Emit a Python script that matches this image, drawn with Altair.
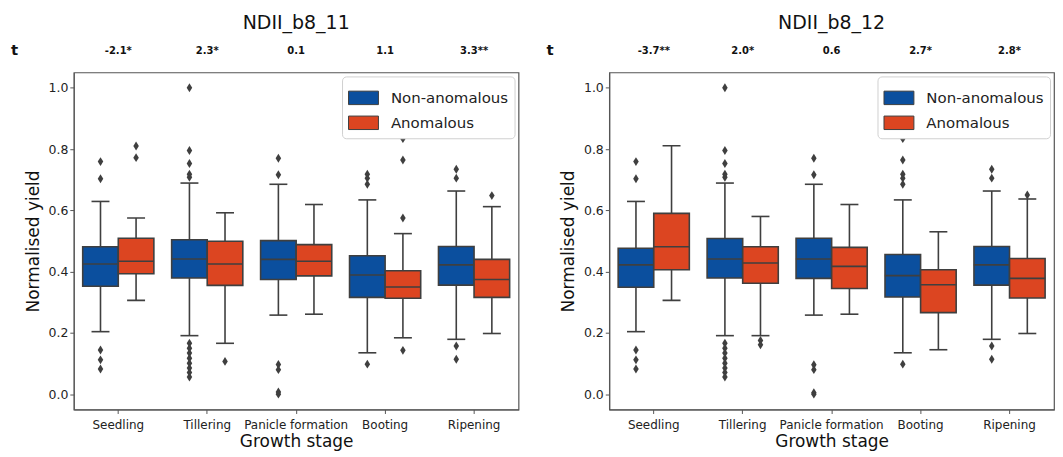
import altair as alt
import pandas as pd

stages = ["Seedling", "Tillering", "Panicle formation", "Booting", "Ripening"]
groups = ["Non-anomalous", "Anomalous"]
panels = ["NDII_b8_11", "NDII_b8_12"]

# t statistics shown above each growth stage
t_11 = ["-2.1*", "2.3*", "0.1", "1.1", "3.3**"]
t_12 = ["-3.7**", "2.0*", "0.6", "2.7*", "2.8*"]

# Box statistics per stage: [lower whisker, q1, median, q3, upper whisker]
# NDII_b8_11
non_11_wlo = [0.204, 0.191, 0.258, 0.135, 0.179]
non_11_q1 = [0.352, 0.379, 0.374, 0.316, 0.356]
non_11_med = [0.425, 0.441, 0.440, 0.389, 0.422]
non_11_q3 = [0.481, 0.504, 0.501, 0.452, 0.482]
non_11_whi = [0.629, 0.689, 0.685, 0.634, 0.663]
ano_11_wlo = [0.306, 0.166, 0.261, 0.184, 0.198]
ano_11_q1 = [0.393, 0.355, 0.386, 0.313, 0.316]
ano_11_med = [0.434, 0.425, 0.434, 0.350, 0.374]
ano_11_q3 = [0.509, 0.499, 0.488, 0.403, 0.440]
ano_11_whi = [0.575, 0.592, 0.619, 0.524, 0.612]
# NDII_b8_12
non_12_wlo = [0.204, 0.191, 0.258, 0.135, 0.179]
non_12_q1 = [0.349, 0.379, 0.378, 0.317, 0.356]
non_12_med = [0.422, 0.441, 0.441, 0.387, 0.422]
non_12_q3 = [0.476, 0.508, 0.509, 0.456, 0.482]
non_12_whi = [0.629, 0.689, 0.685, 0.634, 0.663]
ano_12_wlo = [0.306, 0.191, 0.261, 0.145, 0.198]
ano_12_q1 = [0.406, 0.362, 0.345, 0.266, 0.314]
ano_12_med = [0.481, 0.428, 0.417, 0.357, 0.378]
ano_12_q3 = [0.590, 0.481, 0.479, 0.406, 0.443]
ano_12_whi = [0.811, 0.580, 0.619, 0.530, 0.637]

# Outliers per stage
non_11_out = [
    [0.759, 0.703, 0.144, 0.112, 0.082],
    [1.0, 0.795, 0.753, 0.718, 0.708, 0.166, 0.150, 0.134, 0.117, 0.101, 0.085, 0.071, 0.056],
    [0.770, 0.716, 0.097, 0.080, 0.007, 0.0],
    [0.718, 0.705, 0.685, 0.098],
    [0.734, 0.705, 0.157, 0.114],
]
ano_11_out = [
    [0.810, 0.772],
    [0.107],
    [],
    [0.834, 0.764, 0.575, 0.143],
    [0.648],
]
non_12_out = [
    [0.759, 0.703, 0.144, 0.112, 0.082],
    [1.0, 0.795, 0.753, 0.718, 0.708, 0.166, 0.150, 0.134, 0.117, 0.101, 0.085, 0.071, 0.056],
    [0.770, 0.716, 0.096, 0.080, 0.005, 0.0],
    [0.834, 0.764, 0.718, 0.705, 0.685, 0.098],
    [0.734, 0.705, 0.157, 0.114],
]
ano_12_out = [
    [],
    [0.175, 0.161],
    [],
    [],
    [0.650],
]

BLUE = "#0b4f9e"
RED = "#dc4521"
EDGE = "#3f3f3f"
FONT = "DejaVu Sans"


def box_frame(stats_non, stats_ano):
    rows = []
    for g, st in zip(groups, [stats_non, stats_ano]):
        wlo, q1, med, q3, whi = st
        for i, s in enumerate(stages):
            rows.append(dict(stage=s, group=g, wlo=wlo[i], q1=q1[i], med=med[i], q3=q3[i], whi=whi[i]))
    return pd.DataFrame(rows)


def out_frame(out_non, out_ano):
    rows = []
    for g, outs in zip(groups, [out_non, out_ano]):
        for i, s in enumerate(stages):
            for v in outs[i]:
                rows.append(dict(stage=s, group=g, value=v))
    return pd.DataFrame(rows)


def panel(title, tvals, stats_non, stats_ano, out_non, out_ano):
    box_df = box_frame(stats_non, stats_ano)
    out_df = out_frame(out_non, out_ano)
    t_df = pd.DataFrame({"stage": stages, "t": tvals})
    lab_df = pd.DataFrame({"lab": ["t"]})

    x = alt.X("stage:N", sort=stages,
              scale=alt.Scale(domain=stages, paddingInner=0, paddingOuter=0),
              axis=alt.Axis(title="Growth stage", labelAngle=0, labelFontSize=12,
                            titleFontSize=17, titleFontWeight="normal", titlePadding=3,
                            tickSize=4, labelPadding=6))
    xo = alt.XOffset("group:N", sort=groups,
                     scale=alt.Scale(domain=groups, paddingInner=0, paddingOuter=0.25))
    yscale = alt.Scale(domain=[-0.05, 1.05], nice=False, zero=False)
    y_axis = alt.Axis(title="Normalised yield", values=[0, 0.2, 0.4, 0.6, 0.8, 1.0],
                      format=".1f", labelFontSize=12.5, titleFontSize=17,
                      titleFontWeight="normal", tickSize=4, titlePadding=6)
    color = alt.Color("group:N", sort=groups,
                      scale=alt.Scale(domain=groups, range=[BLUE, RED]),
                      legend=alt.Legend(title=None, orient="top-right", offset=4,
                                        fillColor="white", strokeColor="#d0d0d0",
                                        cornerRadius=4, padding=6, labelFontSize=15,
                                        symbolType="M-1,-0.45H1V0.45H-1Z", symbolSize=900,
                                        symbolStrokeColor=EDGE, symbolStrokeWidth=1,
                                        labelOffset=12, rowPadding=-6, labelColor="#222"))

    base = alt.Chart(box_df)
    boxes = base.mark_bar(stroke=EDGE, strokeWidth=1.6).encode(
        x=x, xOffset=xo,
        y=alt.Y("q1:Q", scale=yscale, axis=y_axis), y2="q3:Q",
        color=color)
    wl = base.mark_rule(color=EDGE, strokeWidth=1.6).encode(
        x=x, xOffset=xo, y=alt.Y("wlo:Q", scale=yscale), y2="q1:Q")
    wh = base.mark_rule(color=EDGE, strokeWidth=1.6).encode(
        x=x, xOffset=xo, y=alt.Y("q3:Q", scale=yscale), y2="whi:Q")
    cap_lo = base.mark_tick(color=EDGE, size=18, thickness=1.6, orient="horizontal", opacity=1).encode(
        x=x, xOffset=xo, y=alt.Y("wlo:Q", scale=yscale))
    cap_hi = base.mark_tick(color=EDGE, size=18, thickness=1.6, orient="horizontal", opacity=1).encode(
        x=x, xOffset=xo, y=alt.Y("whi:Q", scale=yscale))
    med = base.mark_tick(color=EDGE, size=36, thickness=1.6, orient="horizontal", opacity=1).encode(
        x=x, xOffset=xo, y=alt.Y("med:Q", scale=yscale))
    outs = alt.Chart(out_df).mark_point(
        shape="M0,-1L0.62,0L0,1L-0.62,0Z", filled=True, color=EDGE, size=80, opacity=1).encode(
        x=x, xOffset=xo, y=alt.Y("value:Q", scale=yscale))
    tt = alt.Chart(t_df).mark_text(fontSize=10, fontWeight="bold", color="#111",
                                   baseline="middle", clip=False).encode(
        x=x, y=alt.value(-22), text="t:N")
    tl = alt.Chart(lab_df).mark_text(fontSize=15, fontWeight="bold", color="#111",
                                     baseline="middle", align="left", clip=False).encode(
        x=alt.value(-63), y=alt.value(-22), text="lab:N")

    return alt.layer(boxes, wl, wh, cap_lo, cap_hi, med, outs, tt, tl).properties(
        width=446, height=338,
        title=alt.TitleParams(title, fontSize=19, fontWeight="normal", anchor="middle",
                              offset=11, color="#111"))


left = panel(panels[0], t_11,
             [non_11_wlo, non_11_q1, non_11_med, non_11_q3, non_11_whi],
             [ano_11_wlo, ano_11_q1, ano_11_med, ano_11_q3, ano_11_whi],
             non_11_out, ano_11_out)
right = panel(panels[1], t_12,
              [non_12_wlo, non_12_q1, non_12_med, non_12_q3, non_12_whi],
              [ano_12_wlo, ano_12_q1, ano_12_med, ano_12_q3, ano_12_whi],
              non_12_out, ano_12_out)

chart = alt.hconcat(left, right, spacing=26).resolve_scale(color="independent").resolve_legend(
    color="independent").configure(
    font=FONT, padding={"left": 2, "top": 4, "right": 0, "bottom": 0}).configure_view(
    stroke="#555", strokeWidth=1.2).configure_axis(
    domainColor="#555", tickColor="#555", labelColor="#222", titleColor="#111",
    grid=False, labelFont=FONT, titleFont=FONT)

chart.save("out.html", embed_options={"renderer": "svg", "actions": False})
